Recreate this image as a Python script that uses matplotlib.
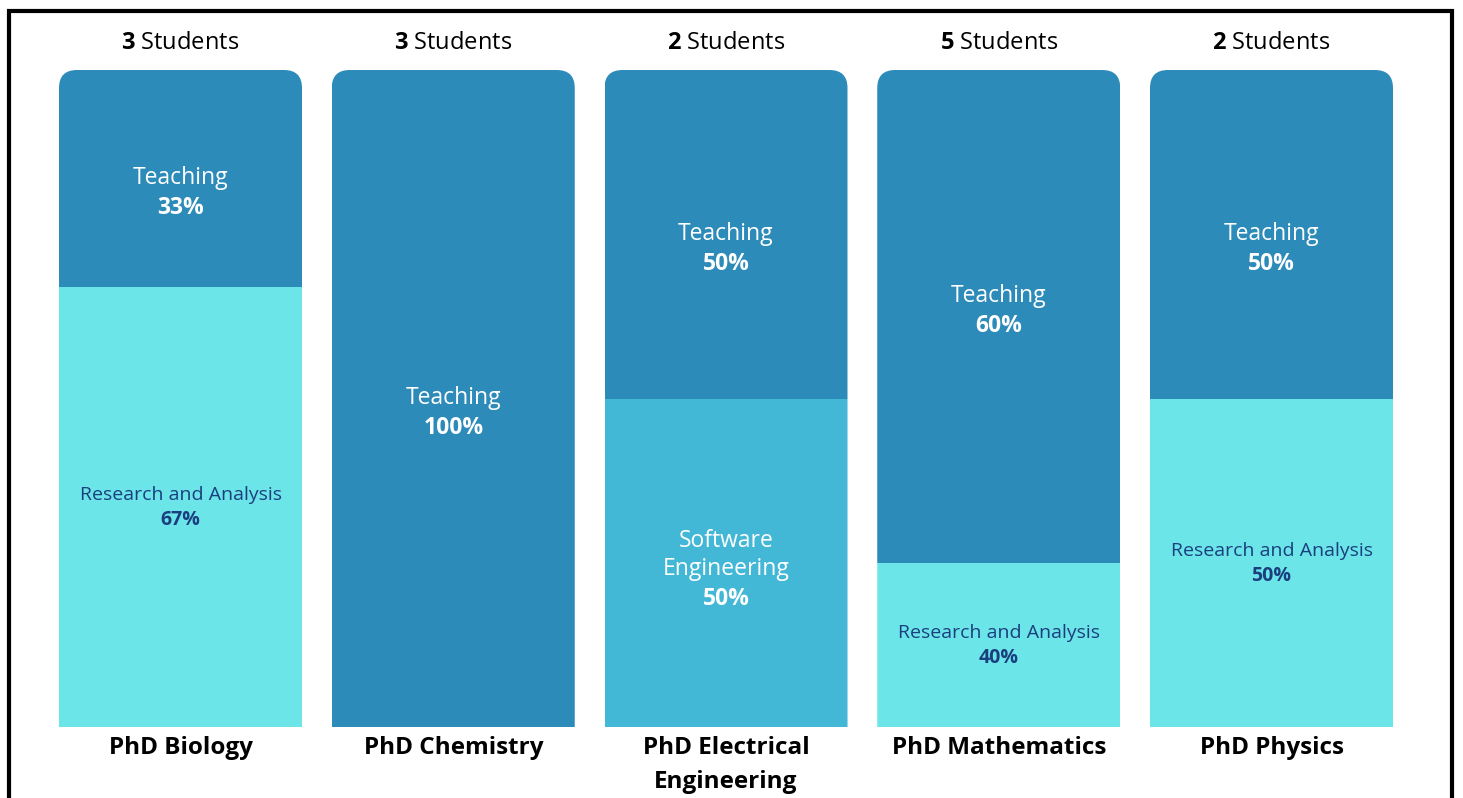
import matplotlib
matplotlib.use('Agg')
import numpy as np
from matplotlib import pyplot as plt
from matplotlib.patches import FancyBboxPatch, Rectangle

plt.rcParams['font.family'] = ['Open Sans', 'DejaVu Sans']
plt.rcParams['mathtext.fontset'] = 'custom'
plt.rcParams['mathtext.bf'] = 'Open Sans:bold'
plt.rcParams['mathtext.rm'] = 'Open Sans'

# data
programs = ['PhD Biology', 'PhD Chemistry', 'PhD Electrical\nEngineering',
            'PhD Mathematics', 'PhD Physics']
students = [3, 3, 2, 5, 2]
top_share = [0.33, 1.0, 0.5, 0.75, 0.5]          # drawn height of top segment
top_names = ['Teaching', 'Teaching', 'Teaching', 'Teaching', 'Teaching']
top_pct = ['33%', '100%', '50%', '60%', '50%']
bottom_names = ['Research and Analysis', None, 'Software\nEngineering',
                'Research and Analysis', 'Research and Analysis']
bottom_pct = ['67%', None, '50%', '40%', '50%']

c_teach = '#2d8bba'
c_research = '#6be5e8'
c_soft = '#42b7d6'
c_navy = '#1b3f7e'

W, H = 1463, 798
fig = plt.figure(figsize=(W / 100, H / 100), dpi=100)
# axes: y=0 at pixel 727, y=1 at pixel 70
ax = fig.add_axes([0, (H - 727) / H, 1, (727 - 70) / H])
step = 272.75
ax.set_xlim(-180.5 / step, 4 + (W - 1271.5) / step)
ax.set_ylim(0, 1)
ax.axis('off')

# black frame
fig.patches.append(Rectangle((9 / W, -0.05), (1452 - 9) / W, 1.05 - 11 / H,
                             transform=fig.transFigure, fill=False,
                             edgecolor='black', linewidth=3))

x = np.arange(len(programs))
bw = 243 / step
top_share = np.array(top_share)
bottom_share = 1 - top_share

bcolors = [c_soft if n and n.startswith('Software') else c_research for n in bottom_names]
b1 = ax.bar(x, bottom_share, bw, color=bcolors, linewidth=0)
b2 = ax.bar(x, top_share, bw, bottom=bottom_share, color=c_teach, linewidth=0)

rx = 18 / step
ry = 18 / 657
for i in range(len(x)):
    clip = FancyBboxPatch((x[i] - bw / 2, -0.2), bw, 1.2,
                          boxstyle='round,pad=0,rounding_size=%f' % rx,
                          mutation_aspect=ry / rx, transform=ax.transData,
                          facecolor='none', edgecolor='none')
    ax.add_patch(clip)
    b1[i].set_clip_path(clip)
    b2[i].set_clip_path(clip)

px = 1 / 657  # one pixel in y units
for i in range(len(x)):
    # top segment label
    ymid = bottom_share[i] + top_share[i] / 2
    if top_share[i] > 0.7 and top_share[i] < 1:
        ymid += 20 * px
    ax.text(x[i], ymid, top_names[i], ha='center', va='center',
            color='white', fontsize=16.5)
    ax.text(x[i], ymid - 30 * px, top_pct[i], ha='center', va='center',
            color='white', fontsize=16.5, fontweight='bold')
    if bottom_names[i]:
        ymid = bottom_share[i] / 2
        if bottom_names[i].startswith('Software'):
            ax.text(x[i], ymid + 8 * px, bottom_names[i], ha='center', va='center',
                    color='white', fontsize=16.5, linespacing=1.2)
            ax.text(x[i], ymid - 36 * px, bottom_pct[i], ha='center', va='center',
                    color='white', fontsize=16.5, fontweight='bold')
        else:
            ax.text(x[i], ymid + 12 * px, bottom_names[i], ha='center', va='center',
                    color=c_navy, fontsize=14)
            ax.text(x[i], ymid - 13 * px, bottom_pct[i], ha='center', va='center',
                    color=c_navy, fontsize=14, fontweight='bold')
    # students count above
    ax.text(x[i], 1 + 27 * px, r'$\mathbf{%d}$ Students' % students[i],
            ha='center', va='center', fontsize=17, color='black')
    # program name below
    ax.text(x[i], -9 * px, programs[i], ha='center', va='top',
            fontsize=17.5, fontweight='bold', color='black', linespacing=1.55)

fig.savefig('out.png', dpi=100)
